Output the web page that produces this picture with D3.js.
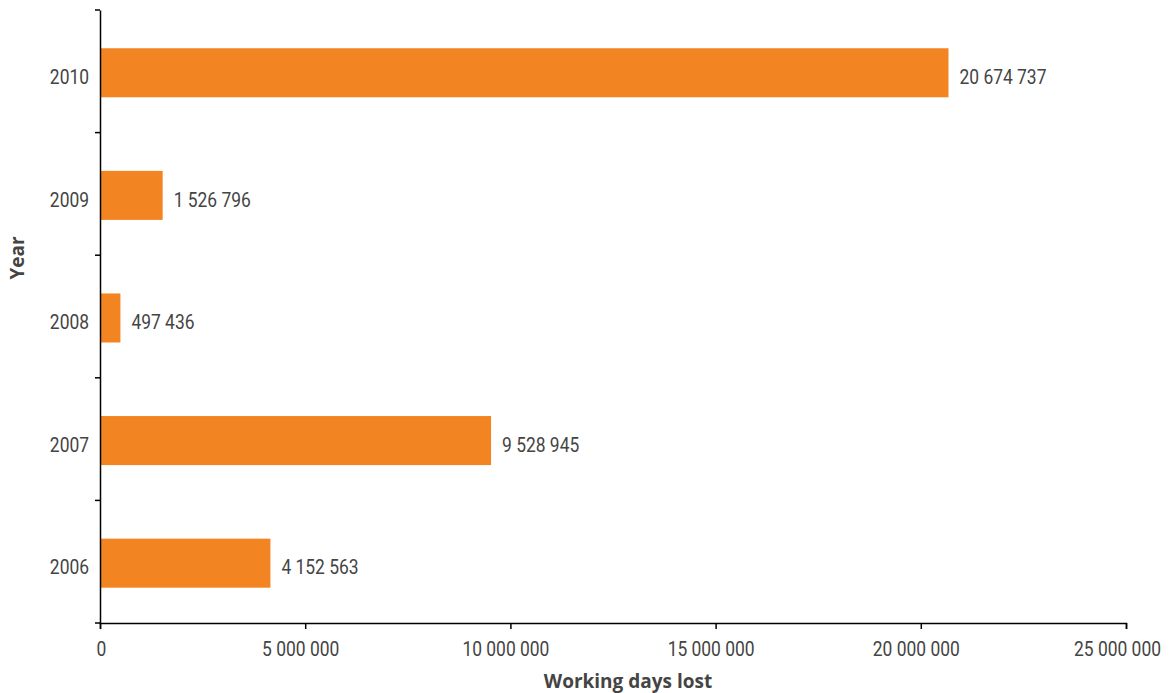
<!DOCTYPE html>
<html>
<head>
<meta charset="utf-8">
<script src="https://cdn.jsdelivr.net/npm/d3@7"></script>
<style>
  html, body { margin: 0; padding: 0; background: #fff; }
  svg { display: block; }
  .lbl { font-family: Roboto, "Noto Sans", sans-serif; fill: #444; }
  .ttl { font-family: "Open Sans", "Noto Sans", sans-serif; fill: #444; font-weight: bold; }
</style>
</head>
<body>
<svg id="chart" width="1169" height="693"></svg>
<script>
// Working days lost per year
const years = ["2010", "2009", "2008", "2007", "2006"];
const daysLost = [20674737, 1526796, 497436, 9528945, 4152563];
const xTickValues = [0, 5000000, 10000000, 15000000, 20000000, 25000000];
const xTitle = "Working days lost";
const yTitle = "Year";

const W = 1169, H = 693;
const m = { left: 100, top: 10, right: 43, bottom: 70 };
const plotW = W - m.left - m.right;
const plotH = H - m.top - m.bottom;

// narrow numeric face: Roboto squeezed horizontally
const FS = 20.5, SQ = 0.85;

const fmt = d3.formatLocale({ decimal: ".", thousands: " ", grouping: [3], currency: ["", ""] }).format(",d");

const svg = d3.select("#chart");
const g = svg.append("g").attr("transform", `translate(${m.left},${m.top})`);

const x = d3.scaleLinear().domain([0, 25000000]).range([0, plotW]);
const y = d3.scaleBand().domain(years).range([0, plotH])
  .paddingInner(0.6).paddingOuter(0.3).align(0.52);

const rows = years.map((yr, i) => ({ year: yr, value: daysLost[i] }));

// bars
g.selectAll("rect.bar").data(rows).join("rect")
  .attr("class", "bar")
  .attr("x", x(0))
  .attr("y", d => y(d.year))
  .attr("width", d => x(d.value) - x(0))
  .attr("height", y.bandwidth())
  .attr("fill", "#F28522");

// value labels
g.selectAll("text.val").data(rows).join("text")
  .attr("class", "lbl val")
  .attr("transform", d => `translate(${x(d.value) + 11},${y(d.year) + y.bandwidth() / 2}) scale(${SQ},1)`)
  .attr("dy", "0.55em")
  .attr("font-size", FS)
  .text(d => fmt(d.value));

// x axis
const xAxis = g.append("g")
  .attr("transform", `translate(0,${plotH})`)
  .call(d3.axisBottom(x).tickValues(xTickValues).tickFormat(fmt).tickSizeOuter(0).tickSize(6));
xAxis.select(".domain").attr("stroke", "#000").attr("stroke-width", 1.5);
xAxis.selectAll(".tick line").attr("stroke", "#000").attr("stroke-width", 1.5);
xAxis.selectAll(".tick text")
  .attr("class", "lbl")
  .attr("font-size", FS)
  .attr("y", 18)
  .attr("x", d => d === 0 ? 1 : (d === 25000000 ? -9 : -5) / SQ)
  .attr("dy", "0.71em")
  .attr("transform", `scale(${SQ},1)`);

// y axis: labels at band centres, ticks at band boundaries
const yAxis = g.append("g")
  .call(d3.axisLeft(y).tickSize(0).tickPadding(11));
yAxis.select(".domain").attr("stroke", "#000").attr("stroke-width", 1.5);
yAxis.selectAll(".tick text")
  .attr("class", "lbl")
  .attr("font-size", FS)
  .attr("x", -11 / SQ)
  .attr("dy", "0.55em")
  .attr("transform", `scale(${SQ},1)`);

const step = y.step();
const bounds = d3.range(years.length + 1).map(i => i * step);
g.append("g").selectAll("line").data(bounds).join("line")
  .attr("x1", -5).attr("x2", 0)
  .attr("y1", d => d).attr("y2", d => d)
  .attr("stroke", "#000").attr("stroke-width", 1.5);

// axis titles
svg.append("text")
  .attr("class", "ttl")
  .attr("x", 628)
  .attr("y", 688)
  .attr("text-anchor", "middle")
  .attr("font-size", 19)
  .text(xTitle);

svg.append("text")
  .attr("class", "ttl")
  .attr("transform", "translate(24,258) rotate(-90)")
  .attr("text-anchor", "middle")
  .attr("font-size", 19)
  .text(yTitle);
</script>
</body>
</html>
